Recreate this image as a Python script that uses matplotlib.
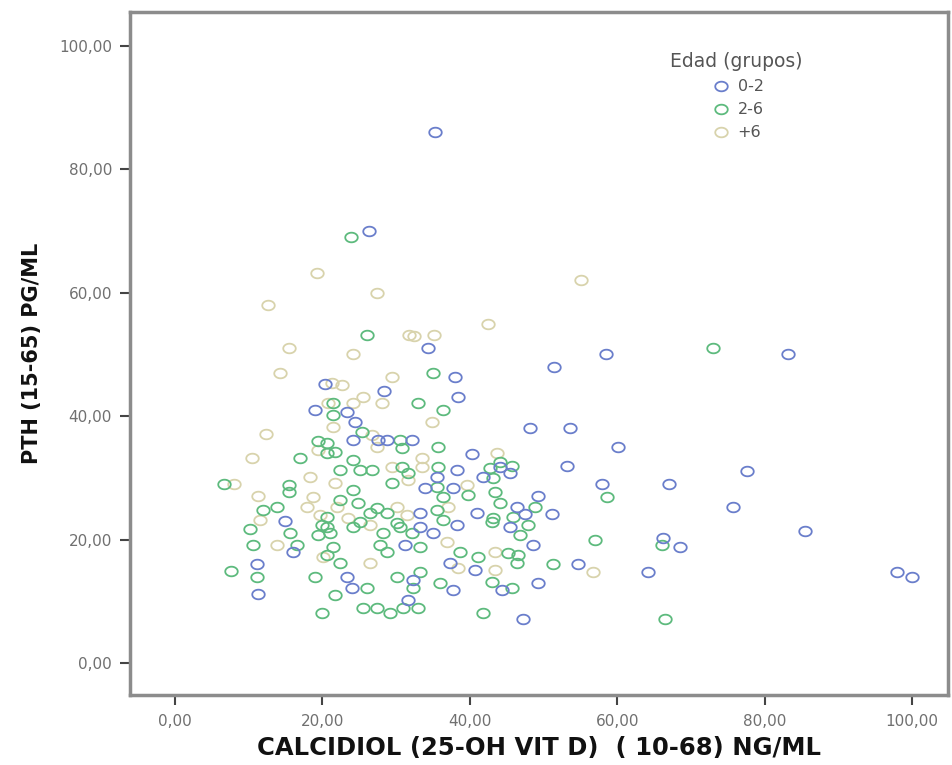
import numpy as np
import matplotlib.pyplot as plt
from matplotlib.path import Path
from matplotlib.ticker import FuncFormatter

# Edad 0-2
blue_x = [35.3, 26.3, 34.3, 51.4, 58.5, 83.2, 38.0, 38.4, 28.4, 20.4, 19.0, 23.3, 24.4, 24.2,
          27.5, 28.8, 32.2, 48.2, 53.6, 60.1, 53.2, 40.3, 44.1, 38.3, 35.5, 41.8, 45.5, 33.9,
          37.7, 57.9, 67.0, 77.6, 49.3, 46.4, 75.7, 51.2, 47.5, 41.0, 33.2, 38.3, 33.2, 14.9,
          16.0, 85.5, 66.2, 68.5, 31.2, 35.0, 45.5, 48.6, 54.7, 64.2, 98.0, 100.0, 49.3, 47.2,
          37.3, 40.7, 23.3, 32.3, 24.0, 37.7, 44.4, 31.6, 11.1, 11.3]
blue_y = [86.1, 70.0, 51.1, 48.0, 50.1, 50.1, 46.4, 43.1, 44.1, 45.2, 41.0, 40.7, 39.1, 36.1,
          36.1, 36.1, 36.1, 38.1, 38.1, 35.0, 31.9, 33.9, 31.8, 31.3, 30.1, 30.1, 30.8, 28.4,
          28.4, 29.0, 29.0, 31.1, 27.1, 25.3, 25.3, 24.1, 24.1, 24.3, 24.3, 22.4, 22.0, 23.0,
          18.0, 21.4, 20.3, 18.8, 19.1, 21.1, 22.0, 19.1, 16.0, 14.7, 14.7, 13.9, 13.0, 7.1,
          16.2, 15.1, 13.9, 13.5, 12.2, 11.8, 11.8, 10.2, 16.0, 11.2]

# Edad 2-6
green_x = [23.9, 26.1, 73.0, 35.0, 33.0, 36.4, 21.4, 21.4, 25.4, 30.5, 30.8, 35.7, 19.4, 20.6,
           17.0, 6.6, 15.5, 15.5, 11.9, 13.8, 19.9, 10.2, 10.6, 15.6, 19.4, 16.6, 7.6, 11.1,
           19.0, 19.9, 21.7, 20.6, 24.2, 25.1, 26.7, 22.4, 30.8, 31.6, 29.4, 35.7, 35.5, 36.4,
           39.8, 43.1, 44.1, 42.7, 43.4, 44.1, 45.9, 43.1, 35.5, 36.4, 24.2, 24.8, 22.4, 27.4,
           26.5, 28.8, 30.1, 25.1, 20.6, 20.6, 21.0, 24.2, 28.2, 27.8, 28.8, 30.5, 32.2, 33.2,
           38.7, 41.1, 43.0, 45.2, 21.4, 20.6, 22.4, 46.4, 30.1, 33.2, 36.0, 26.1, 32.3, 43.0,
           45.7, 21.7, 25.5, 27.4, 29.2, 30.9, 33.0, 41.8, 57.0, 66.1, 51.3, 66.5, 58.6, 45.7,
           48.8, 47.9, 46.8, 46.5]
green_y = [69.0, 53.2, 51.1, 47.0, 42.1, 41.0, 42.1, 40.2, 37.4, 36.1, 34.8, 35.0, 36.0, 34.0,
           33.2, 29.0, 28.8, 27.7, 24.8, 25.3, 22.4, 21.7, 19.1, 21.1, 20.7, 19.1, 14.9, 13.9,
           13.9, 8.1, 34.2, 35.7, 32.9, 31.3, 31.3, 31.3, 31.8, 30.8, 29.2, 31.8, 28.5, 26.9,
           27.2, 30.0, 32.6, 31.6, 27.7, 25.9, 23.7, 23.5, 24.8, 23.2, 28.0, 25.9, 26.4, 25.1,
           24.3, 24.3, 22.7, 22.9, 23.7, 22.0, 21.1, 22.0, 21.1, 19.1, 18.0, 22.0, 21.1, 18.8,
           18.0, 17.2, 22.9, 17.8, 18.8, 17.5, 16.2, 16.2, 13.9, 14.7, 13.0, 12.2, 12.2, 13.1,
           12.2, 11.0, 8.9, 8.9, 8.1, 8.9, 8.9, 8.1, 19.9, 19.1, 16.0, 7.1, 26.9, 31.9,
           25.3, 22.4, 20.7, 17.5]

# Edad +6
beige_x = [19.3, 27.4, 12.6, 31.8, 15.5, 24.2, 14.2, 29.4, 55.1, 42.5, 32.4, 35.1, 21.3, 22.7,
           20.8, 12.3, 19.4, 10.4, 8.0, 18.3, 11.3, 18.7, 17.9, 19.7, 11.5, 25.5, 24.2, 28.1,
           34.9, 21.4, 26.7, 27.4, 43.7, 33.5, 29.4, 33.5, 21.7, 31.6, 39.6, 37.0, 22.0, 30.1,
           31.5, 23.5, 26.5, 13.8, 20.1, 36.9, 43.4, 26.5, 38.4, 43.4, 56.7]
beige_y = [63.2, 60.0, 58.0, 53.2, 51.1, 50.1, 47.0, 46.4, 62.1, 54.9, 53.0, 53.2, 45.4, 45.1,
           42.1, 37.1, 34.5, 33.2, 29.0, 30.1, 27.1, 26.9, 25.3, 24.0, 23.2, 43.1, 42.1, 42.1,
           39.1, 38.2, 37.0, 35.0, 34.0, 33.2, 31.8, 31.8, 29.2, 29.7, 28.8, 25.3, 25.3, 25.3,
           24.0, 23.5, 22.4, 19.1, 17.2, 19.6, 18.0, 16.2, 15.4, 15.1, 14.7]

groups = ["0-2", "2-6", "+6"]
colors = ["#6A7ECB", "#5DBA7D", "#D8D3AC"]
xticks = [0, 20, 40, 60, 80, 100]
yticks = [0, 20, 40, 60, 80, 100]

# flattened open circle, like the stretched original
t = np.linspace(0, 2 * np.pi, 60)
ring = Path(np.column_stack([1.3 * np.cos(t), np.sin(t)]), closed=True)

fig = plt.figure(figsize=(9.52, 7.65), dpi=100)
ax = fig.add_axes([0.1366, 0.0915, 0.8592, 0.8928])

series = [(beige_x, beige_y, 2), (green_x, green_y, 1), (blue_x, blue_y, 0)]
handles = {}
for xs, ys, i in series:
    h, = ax.plot(xs, ys, linestyle="none", marker=ring, markersize=9,
                 markerfacecolor="none", markeredgecolor=colors[i], markeredgewidth=1.3)
    handles[i] = h

ax.set_xlim(-6.1, 104.9)
ax.set_ylim(-5.2, 105.5)
ax.set_xticks(xticks)
ax.set_yticks(yticks)
fmt = FuncFormatter(lambda v, p: f"{v:.2f}".replace(".", ","))
ax.xaxis.set_major_formatter(fmt)
ax.yaxis.set_major_formatter(fmt)
ax.tick_params(direction="out", length=7, width=1.5, color="#444444",
               labelsize=11, labelcolor="#707070", pad=6)
ax.tick_params(axis="x", pad=7)
for s in ax.spines.values():
    s.set_color("#8C8C8C")
    s.set_linewidth(2.5)

ax.set_xlabel("CALCIDIOL (25-OH VIT D)  ( 10-68) NG/ML", fontsize=17.5,
              fontweight="bold", color="#111111", labelpad=5)
ax.set_ylabel("PTH (15-65) PG/ML", fontsize=15, fontweight="bold",
              color="#111111", labelpad=12)

leg = ax.legend([handles[0], handles[1], handles[2]], groups, title="Edad (grupos)",
                loc="upper left", bbox_to_anchor=(0.642, 0.962), frameon=False,
                fontsize=11.5, title_fontsize=13.5, handletextpad=0.25, labelspacing=0.5,
                handlelength=1.6)
for txt in leg.get_texts():
    txt.set_color("#555555")
leg.get_title().set_color("#555555")

fig.savefig("out.png", dpi=100)
